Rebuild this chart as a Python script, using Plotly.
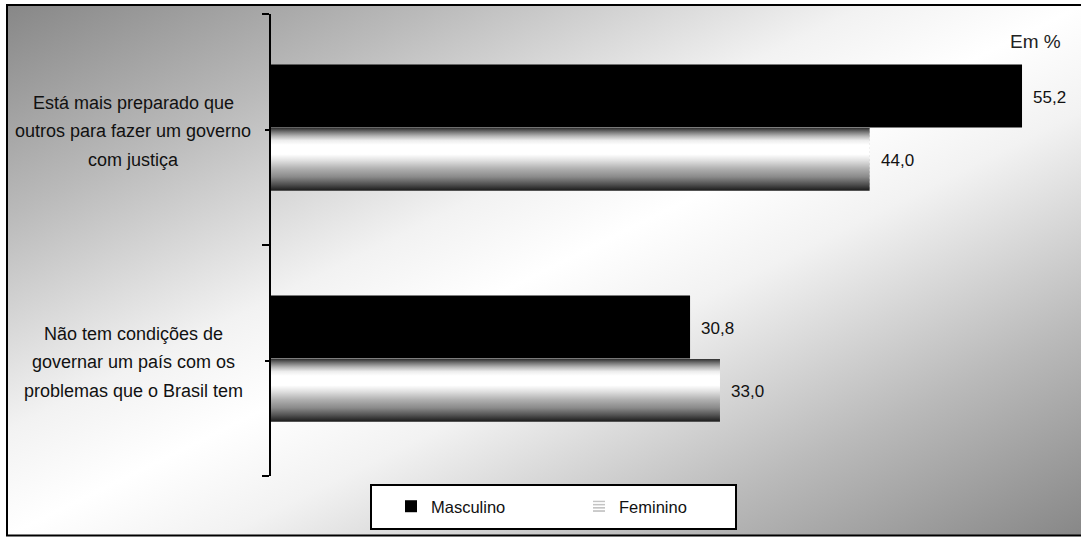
import base64
import plotly.graph_objects as go

# ---- data -------------------------------------------------------------
category_lines = [
    ["Está mais preparado que", "outros para fazer um governo", "com justiça"],
    ["Não tem condições de", "governar um país com os", "problemas que o Brasil tem"],
]
series_names = ["Masculino", "Feminino"]
masculino = [55.2, 30.8]
feminino = [44.0, 33.0]
unit_label = "Em %"

# ---- geometry / style -------------------------------------------------
W, H = 1081, 537
L, R, T, B = 271, 1071, 14, 476          # plot area edges (px)
X_MAX = 58.8
BAR_W = 0.272
OFF_M = -0.281
OFF_F = -0.007
FONT = "Liberation Sans, Arial, sans-serif"

# vertical "cylinder" shading used for the Feminino bars (top -> bottom)
FEM_SCALE = [
    [0.00, "#2e2e2e"], [0.06, "#707070"], [0.13, "#b5b5b5"], [0.20, "#ececec"],
    [0.27, "#ffffff"], [0.42, "#ffffff"], [0.52, "#e0e0e0"], [0.65, "#b0b0b0"],
    [0.78, "#8a8a8a"], [0.90, "#505050"], [1.00, "#1a1a1a"],
]

pos = [i + 0.5 for i in range(len(category_lines))]


def fmt(v):
    return f"{v:.1f}".replace(".", ",")


def px_x(x):
    return (x - L) / (R - L)


def px_y(y):
    return (B - y) / (B - T)


fig = go.Figure()

fig.add_trace(go.Bar(
    y=pos, x=masculino, orientation="h", name=series_names[0],
    width=BAR_W, offset=OFF_M,
    marker=dict(color="black", line=dict(width=0)),
    hoverinfo="skip",
))
fig.add_trace(go.Bar(
    y=pos, x=feminino, orientation="h", name=series_names[1],
    width=BAR_W, offset=OFF_F,
    marker=dict(color="white", line=dict(width=0),
                pattern=dict(shape="-", fgcolor="#555555", bgcolor="white",
                             size=4, solidity=0.35)),
    hoverinfo="skip",
))

# shaded fill laid over each Feminino bar
for p, v in zip(pos, feminino):
    top = p + OFF_F
    bot = top + BAR_W
    fig.add_trace(go.Scatter(
        x=[0, v, v, 0, 0], y=[top, top, bot, bot, top],
        mode="lines", line=dict(width=0), fill="toself",
        fillgradient=dict(type="vertical", colorscale=FEM_SCALE,
                          start=top, stop=bot),
        showlegend=False, hoverinfo="skip",
    ))

annotations = []
# value labels
for vals, off in ((masculino, OFF_M), (feminino, OFF_F)):
    for p, v in zip(pos, vals):
        annotations.append(dict(
            x=v, y=p + off + BAR_W / 2, xref="x", yref="y",
            text=fmt(v), showarrow=False, xanchor="left", yanchor="middle",
            xshift=9, yshift=-1, font=dict(family=FONT, size=17, color="#111111"),
        ))
# category labels, one line each
LINE_GAP = 28.5
for p, lines in zip(pos, category_lines):
    n = len(lines)
    for i, line in enumerate(lines):
        annotations.append(dict(
            x=px_x(133), y=p, xref="paper", yref="y",
            text=line, showarrow=False, xanchor="center", yanchor="middle",
            yshift=((n - 1) / 2 - i) * LINE_GAP - 1.5,
            font=dict(family=FONT, size=18, color="#111111"),
        ))
annotations.append(dict(
    x=px_x(1063), y=px_y(42), xref="paper", yref="paper",
    text=unit_label, showarrow=False, xanchor="right", yanchor="middle",
    font=dict(family=FONT, size=19, color="#222222"),
))

# background: diagonal grey-white-grey fill inside the frame
svg = (
    "<svg xmlns='http://www.w3.org/2000/svg' width='1076' height='531' "
    "viewBox='0 0 1076 531' preserveAspectRatio='none'>"
    "<defs><linearGradient id='g' x1='0' y1='0' x2='1' y2='1'>"
    "<stop offset='0' stop-color='#878787'/>"
    "<stop offset='0.2' stop-color='#bababa'/>"
    "<stop offset='0.4' stop-color='#f2f2f2'/>"
    "<stop offset='0.5' stop-color='#ffffff'/>"
    "<stop offset='0.6' stop-color='#f2f2f2'/>"
    "<stop offset='0.8' stop-color='#bababa'/>"
    "<stop offset='1' stop-color='#878787'/>"
    "</linearGradient></defs>"
    "<rect width='1076' height='531' fill='url(#g)'/></svg>"
)
bg_src = "data:image/svg+xml;base64," + base64.b64encode(svg.encode()).decode()

fig.update_layout(
    width=W, height=H,
    margin=dict(l=L, r=W - R, t=T, b=H - B, pad=0),
    paper_bgcolor="white", plot_bgcolor="rgba(0,0,0,0)",
    barmode="overlay", showlegend=True,
    font=dict(family=FONT, size=16, color="#111111"),
    xaxis=dict(visible=False, range=[0, X_MAX], fixedrange=True),
    yaxis=dict(
        range=[2, 0], showline=True, linecolor="black", linewidth=2,
        ticks="outside", tickvals=[0, 1, 2], ticklen=7, tickwidth=2,
        tickcolor="black", showticklabels=False, showgrid=False,
        zeroline=False, fixedrange=True,
        minor=dict(tickvals=pos, ticks="outside", ticklen=4, tickwidth=2,
                   tickcolor="black", showgrid=False),
    ),
    legend=dict(
        orientation="h", xref="container", yref="container",
        x=(416 - 25) / W, xanchor="left", y=1 - 506.5 / H, yanchor="middle",
        bgcolor="rgba(0,0,0,0)", borderwidth=0,
        entrywidth=143, entrywidthmode="pixels",
        font=dict(family=FONT, size=16.5, color="#111111"),
        itemclick=False, itemdoubleclick=False,
    ),
    images=[dict(
        source=bg_src, xref="paper", yref="paper",
        x=px_x(7), y=px_y(5), sizex=(1083 - 7) / (R - L), sizey=(536 - 5) / (B - T),
        xanchor="left", yanchor="top", sizing="stretch", layer="below",
    )],
    shapes=[
        # outer frame
        dict(type="rect", xref="paper", yref="paper",
             x0=px_x(7), x1=px_x(1083), y0=px_y(5), y1=px_y(535.5),
             line=dict(color="black", width=2), fillcolor="rgba(0,0,0,0)",
             layer="below"),
        # legend box
        dict(type="rect", xref="paper", yref="paper",
             x0=px_x(371), x1=px_x(736), y0=px_y(485), y1=px_y(529),
             line=dict(color="black", width=2), fillcolor="white",
             layer="below"),
    ],
    annotations=annotations,
)

fig.write_html("out.html")
